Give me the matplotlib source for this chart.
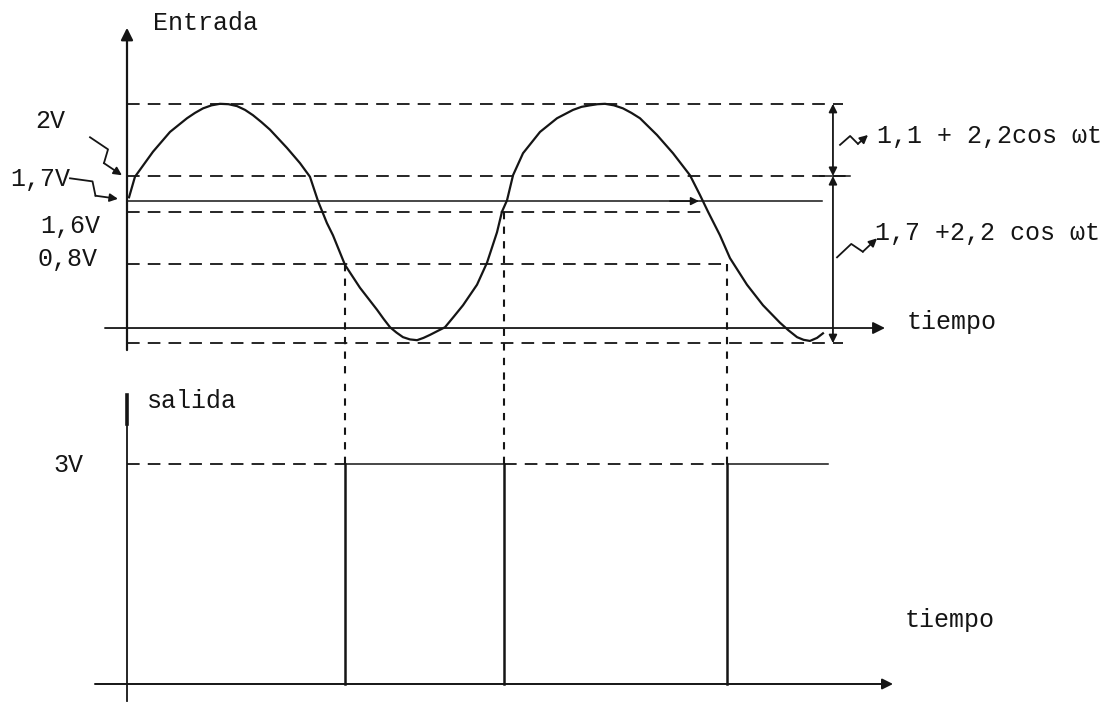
import matplotlib.pyplot as plt
import numpy as np

plt.rcParams['font.family'] = ['Liberation Mono', 'DejaVu Sans Mono']

# input signal (wt in degrees, volts)
wt = [1.9, 7.4, 24.2, 40.0, 55.8, 63.2, 70.7, 78.6, 86.5, 94.4, 102.3, 109.8, 117.2,
      125.0, 133.0, 148.8, 160.9, 170.2, 177.7, 186.0, 191.6, 202.8, 216.7, 232.6,
      238.7, 244.7, 250.7, 256.7, 263.2, 269.8, 275.8, 281.9, 288.8, 295.8, 304.0,
      312.6, 325.6, 334.9, 344.2, 348.8, 353.5, 359.1, 368.4, 384.2, 400.0, 414.9,
      422.8, 430.7, 437.7, 444.7, 453.0, 461.4, 469.3, 477.2, 493.0, 507.9, 523.7,
      533.0, 540.5, 551.6, 560.9, 576.7, 591.6, 607.4, 615.3, 623.3, 629.3, 635.3,
      641.9, 647.4]
v_in = [1.72, 1.99, 2.32, 2.58, 2.76, 2.83, 2.89, 2.93, 2.95, 2.945, 2.92, 2.87, 2.80,
        2.71, 2.61, 2.37, 2.17, 1.99, 1.67, 1.38, 1.22, 0.83, 0.53, 0.24,
        0.12, 0.01, -0.06, -0.12, -0.15, -0.16, -0.13, -0.09, -0.04, 0.01, 0.15,
        0.30, 0.57, 0.86, 1.26, 1.53, 1.68, 2.01, 2.30, 2.58, 2.76, 2.87,
        2.91, 2.93, 2.945, 2.95, 2.93, 2.89, 2.83, 2.76, 2.54, 2.30, 2.01,
        1.75, 1.53, 1.22, 0.92, 0.57, 0.30, 0.07, -0.03, -0.12, -0.155, -0.17,
        -0.13, -0.07]

# reference levels of the input plot
v_peak, v_2v, v_17v, v_16v, v_08v, v_min = 2.95, 2.0, 1.67, 1.53, 0.84, -0.2
guide_end = {'peak': 666, '2v': 671, '17v': 646.5, '16v': 540, '08v': 558.6, 'min': 666}

# output: switching instants and high level
t_switch = [202.8, 350.7, 558.6]
switch_level = [v_08v, v_16v, v_08v]
t_stop = 652.1
v_out = 3.0

ink = '#151515'
fs = 18

fig = plt.figure(figsize=(11.04, 7.02), dpi=100)
top = fig.add_axes([0, 322 / 702, 1, 380 / 702])
bot = fig.add_axes([0, 0, 1, 322 / 702])
top.set_xlim(-118.14, 908.84)
top.set_ylim(-0.684, 4.316)
bot.set_xlim(-118.14, 908.84)
bot.set_ylim(-0.2456, 4.147)
for ax in (top, bot):
    ax.axis('off')

dash = dict(color=ink, lw=1.3, dashes=(7, 4.5))
vdash = dict(color=ink, lw=1.5, dashes=(3.5, 3.5))
solid = dict(color=ink, lw=1.1)


def arrow(ax, start, end, style='-|>', lw=1.3, ms=16):
    ax.annotate('', xy=end, xytext=start,
                arrowprops=dict(arrowstyle=style, color=ink, lw=lw,
                                mutation_scale=ms, shrinkA=0, shrinkB=0))


def squiggle(ax, start, end, amp=6):
    p0 = ax.transData.transform(start)
    p1 = ax.transData.transform(end)
    d = p1 - p0
    n = np.array([-d[1], d[0]]) / np.hypot(*d)
    pts = np.array([p0, p0 + 0.42 * d + amp * n, p0 + 0.58 * d - amp * n, p1])
    pts = ax.transData.inverted().transform(pts)
    ax.plot(pts[:3, 0], pts[:3, 1], color=ink, lw=1.3)
    arrow(ax, pts[2], pts[3], lw=1.3, ms=12)


# ---- input (top) ----
top.plot(wt, v_in, color=ink, lw=1.6, solid_joinstyle='round')
top.plot([0, guide_end['peak']], [v_peak] * 2, **dash)
top.plot([0, guide_end['2v']], [v_2v] * 2, **dash)
top.plot([0, guide_end['16v']], [v_16v] * 2, **dash)
top.plot([0, guide_end['08v']], [v_08v] * 2, **dash)
top.plot([0, guide_end['min']], [v_min] * 2, **dash)
top.plot([0, guide_end['17v']], [v_17v] * 2, **solid)
arrow(top, (505, v_17v), (532, v_17v), lw=1.1, ms=12)

arrow(top, (-20.5, 0), (705.1, 0), lw=1.3, ms=18)
arrow(top, (0, -0.29), (0, 3.95), lw=1.6, ms=18)

# amplitude arrows on the right
arrow(top, (656.7, v_2v), (656.7, v_peak), style='<|-|>', lw=1.3, ms=12)
arrow(top, (656.7, v_min), (656.7, v_2v), style='<|-|>', lw=1.3, ms=12)
top.plot([645, 673], [v_2v] * 2, **solid)

for t, lv in zip(t_switch, switch_level):
    top.plot([t, t], [lv, -0.684], **vdash)

top.text(24.2, 3.92, 'Entrada', fontsize=fs, color=ink)
top.text(-85.6, 2.63, '2V', fontsize=fs, color=ink)
top.text(-108.8, 1.87, '1,7V', fontsize=fs, color=ink)
top.text(-80.9, 1.25, '1,6V', fontsize=fs, color=ink)
top.text(-83.7, 0.82, '0,8V', fontsize=fs, color=ink)
top.text(697.7, 2.43, '1,1 + 2,2cos ωt', fontsize=fs, color=ink)
top.text(695.8, 1.16, '1,7 +2,2 cos ωt', fontsize=fs, color=ink)
top.text(725.6, -0.01, 'tiempo', fontsize=fs, color=ink)

squiggle(top, (-34.4, 2.51), (-4.7, 2.01))
squiggle(top, (-53.0, 1.97), (-8.4, 1.70))
squiggle(top, (663.3, 2.41), (689.3, 2.54), amp=5)
squiggle(top, (660.5, 0.93), (697.7, 1.18), amp=6)

# ---- output (bottom) ----
edges = [0] + t_switch + [t_stop]
for i in range(len(edges) - 1):
    if i % 2 == 1:
        bot.plot([edges[i], edges[i + 1]], [v_out] * 2, **solid)
    else:
        bot.plot([edges[i], edges[i + 1]], [v_out] * 2, **dash)
for t in t_switch:
    bot.plot([t, t], [0, v_out], color=ink, lw=1.8)
    bot.plot([t, t], [v_out, 4.147], **vdash)

bot.plot([0, 0], [-0.23, 3.94], color=ink, lw=1.3)
bot.plot([0, 0], [3.55, 3.94], color=ink, lw=2.6)
arrow(bot, (-29.8, 0), (712.6, 0), lw=1.4, ms=16)

bot.text(18.6, 3.77, 'salida', fontsize=fs, color=ink)
bot.text(-68.8, 2.89, '3V', fontsize=fs, color=ink)
bot.text(723.7, 0.78, 'tiempo', fontsize=fs, color=ink)

fig.savefig('out.png', dpi=100)
